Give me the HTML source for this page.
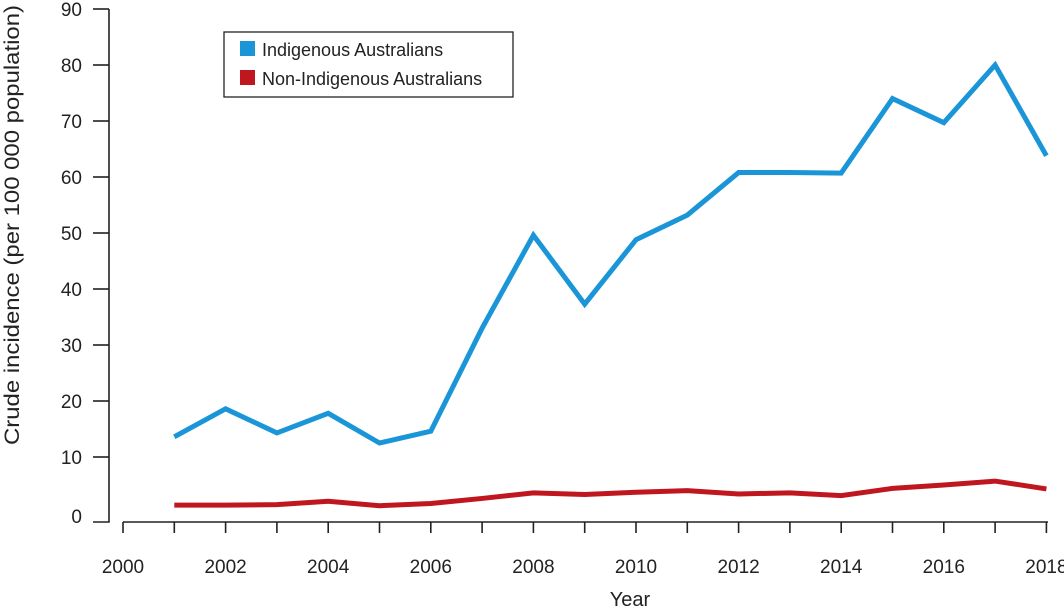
<!DOCTYPE html>
<html><head><style>
body{margin:0;background:#fff}
text{font-family:"Liberation Sans",sans-serif;fill:#222}
</style></head><body>
<svg width="1064" height="610" viewBox="0 0 1064 610">
<g stroke="#222" stroke-width="1.6" fill="none">
<path d="M109,9V522H93"/>
<path d="M123,522H1048"/>
</g>
<g id="g" stroke="#222" stroke-width="1.6"></g>
<g font-size="19" text-anchor="end" id="yl"></g>
<g font-size="19" text-anchor="middle" id="xl"></g>
<text x="630" y="606" font-size="20" text-anchor="middle">Year</text>
<text transform="translate(19,225) rotate(-90)" font-size="21" text-anchor="middle" textLength="440" lengthAdjust="spacingAndGlyphs">Crude incidence (per 100 000 population)</text>
<polyline id="b" fill="none" stroke="#1a96d8" stroke-width="5" stroke-linejoin="miter"/>
<polyline id="r" fill="none" stroke="#c0161f" stroke-width="5"/>
<rect x="224" y="32" width="289" height="65" fill="#fff" stroke="#222" stroke-width="1.3"/>
<rect x="240" y="41" width="15" height="15" fill="#1a96d8"/>
<rect x="240" y="70" width="15" height="15" fill="#c0161f"/>
<text x="262" y="56" font-size="18">Indigenous Australians</text>
<text x="262" y="85" font-size="18">Non-Indigenous Australians</text>
</svg>
<script>
var ns="http://www.w3.org/2000/svg";
function X(y){return 123+(y-2000)*51.3}
function Y(v){return 513-v*5.6}
var g=document.getElementById('g'),yl=document.getElementById('yl'),xl=document.getElementById('xl');
for(var v=0;v<=90;v+=10){var y=v==0?522:Y(v);
 if(v>0){var l=document.createElementNS(ns,'line');l.setAttribute('x1',93);l.setAttribute('x2',109);l.setAttribute('y1',y);l.setAttribute('y2',y);g.appendChild(l);}
 var t=document.createElementNS(ns,'text');t.setAttribute('x',82);t.setAttribute('y',(v==0?516:Y(v))+7);t.textContent=v;yl.appendChild(t);}
for(var yr=2000;yr<=2018;yr++){var l=document.createElementNS(ns,'line');l.setAttribute('x1',X(yr));l.setAttribute('x2',X(yr));l.setAttribute('y1',522);l.setAttribute('y2',533);g.appendChild(l);
 if(yr%2==0){var t=document.createElementNS(ns,'text');t.setAttribute('x',X(yr));t.setAttribute('y',573);t.textContent=yr;xl.appendChild(t);}}
var b=[13.6,18.6,14.3,17.8,12.5,14.6,33,49.6,37.3,48.8,53.2,60.8,60.8,60.7,74,69.7,80,63.8];
var r=[2.1,2.1,2.2,2.8,2.0,2.4,3.3,4.3,4.0,4.4,4.7,4.1,4.3,3.8,5.1,5.7,6.4,5.0].map(function(v){return v-0.7});
function pts(a){return a.map(function(v,i){return X(2001+i)+','+Y(v)}).join(' ')}
document.getElementById('b').setAttribute('points',pts(b));
document.getElementById('r').setAttribute('points',pts(r));
</script>
</body></html>
